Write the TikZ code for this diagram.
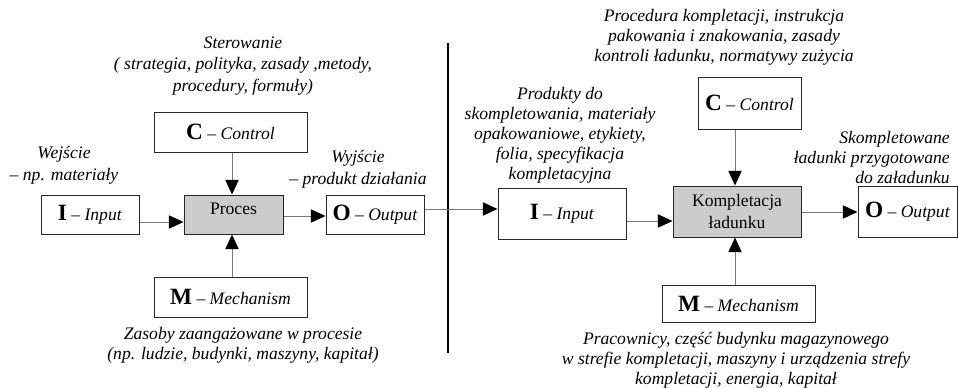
\documentclass[tikz,border=0pt]{standalone}
\usepackage{fontspec}
\setmainfont{Liberation Serif}
\usetikzlibrary{arrows.meta}
\definecolor{procfill}{RGB}{204,204,204}
\definecolor{wire}{RGB}{120,120,120}
\newcommand{\bigletter}[1]{{\fontsize{17.5}{18}\selectfont\bfseries #1}}
\begin{document}
\begin{tikzpicture}[x=0.75pt,y=-0.75pt,
  font=\fontsize{13.2}{15}\selectfont,
  box/.style={draw=black!85,line width=0.75pt,inner sep=0pt,align=center},
  procbox/.style={box,fill=procfill},
  note/.style={align=center,font=\fontsize{13.2}{15}\selectfont\itshape,inner sep=0pt},
  wideNote/.style={note,font=\fontsize{13.2}{16.3}\selectfont\itshape},
  conn/.style={draw=wire,line width=0.75pt,-{Triangle[length=11pt,width=10pt,color=black]}}]
\useasboundingbox (0,0) rectangle (958,387);

% ---------------- general IDEF0 scheme ----------------
\node[box,minimum width=114.75pt,minimum height=30pt] (C1) at (230.5,132) {\bigletter{C} – \textit{Control}};
\node[procbox,minimum width=74.25pt,minimum height=29.25pt] (P1) at (233.5,214.5) {};
\node (P1t) at (233.5,209) {Proces};
\node[box,minimum width=73.5pt,minimum height=29.25pt] (I1) at (90,214.5) {\bigletter{I} – \textit{Input}};
\node[box,minimum width=73.5pt,minimum height=29.25pt] (O1) at (375,214.5) {\bigletter{O} – \textit{Output}};
\node[box,minimum width=114.75pt,minimum height=30pt] (M1) at (230.5,297) {\bigletter{M} – \textit{Mechanism}};

\node[wideNote] (ctl1) at (243,66) {Sterowanie\\( strategia, polityka, zasady ,metody,\\procedury, formuły)};
\node[wideNote] (in1) at (64,165) {Wejście\\– np. materiały};
\node[wideNote] (out1) at (358,169) {Wyjście\\– produkt działania};
\node[note] (mech1) at (243,345) {Zasoby zaangażowane w procesie\\(np. ludzie, budynki, maszyny, kapitał)};

\draw[conn] (I1.east |- 0,222) -- (P1.west |- 0,222);
\draw[conn] (P1.east |- 0,216) -- (O1.west |- 0,216);
\draw[conn] (C1.south -| 232,0) -- (P1.north -| 232,0);
\draw[conn] (M1.north -| 232,0) -- (P1.south -| 232,0);

% separator
\coordinate (sepTop) at (448,43);
\coordinate (sepBot) at (448,353);
\draw[line width=1.5pt] (sepTop) -- (sepBot);

% ---------------- load consolidation process ----------------
\node[box,minimum width=77.25pt,minimum height=39pt] (C2) at (749.5,103) {\bigletter{C} – \textit{Control}};
\node[box,minimum width=96pt,minimum height=38.25pt] (I2) at (562,213.5) {\bigletter{I} – \textit{Input}};
\node[procbox,minimum width=96pt,minimum height=38.25pt,font=\fontsize{13.2}{16.5}\selectfont] (K) at (737,211.5) {Kompletacja\\ładunku};
\node[box,minimum width=74.25pt,minimum height=38.25pt] (O2) at (907.5,211.5) {\bigletter{O} – \textit{Output}};
\node[box,minimum width=114.75pt,minimum height=27.75pt] (M2) at (738.5,303.5) {\bigletter{M} – \textit{Mechanism}};

\node[note] (ctl2) at (724,37) {Procedura kompletacji, instrukcja\\pakowania i znakowania, zasady\\kontroli ładunku, normatywy zużycia};
\node[note] (in2) at (560,135) {Produkty do\\skompletowania, materiały\\opakowaniowe, etykiety,\\folia, specyfikacja\\kompletacyjna};
\node[note,align=right,anchor=east] (out2) at (950,157) {Skompletowane\\ładunki przygotowane\\do załadunku};
\node[note] (mech2) at (736,360) {Pracownicy, część budynku magazynowego\\w strefie kompletacji, maszyny i urządzenia strefy\\kompletacji, energia, kapitał};

\draw[conn] (O1.east |- 0,209) -- (I2.west |- 0,209);
\draw[conn] (I2.east |- 0,221) -- (K.west |- 0,221);
\draw[conn] (K.east |- 0,212) -- (O2.west |- 0,212);
\draw[conn] (C2.south -| 735,0) -- (K.north -| 735,0);
\draw[conn] (M2.north -| 735,0) -- (K.south -| 735,0);
\end{tikzpicture}
\end{document}
